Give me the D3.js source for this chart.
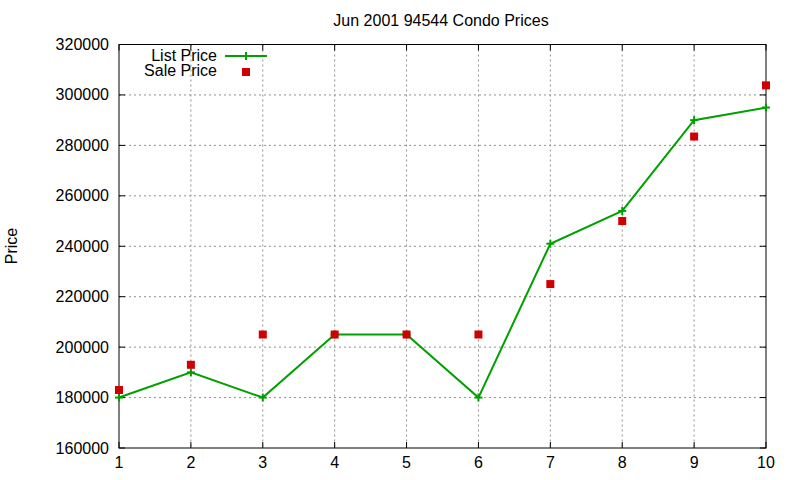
<!DOCTYPE html>
<html lang="en">
<head>
<meta charset="UTF-8">
<title>Jun 2001 94544 Condo Prices</title>
<script src="https://d3js.org/d3.v7.min.js"></script>
<style>
    body { margin: 0; background: #fff; }
    svg { font-family: "Liberation Sans", Arial, sans-serif; }
    .grid line { stroke: #909090; stroke-dasharray: 2,3; stroke-width: 1; }
</style>
</head>
<body>
<svg id="chart" width="800" height="480"></svg>
<script>
    // values
    const months = [1, 2, 3, 4, 5, 6, 7, 8, 9, 10];
    const listPrice = [180000, 190000, 180000, 205000, 205000, 180000, 241000, 254000, 290000, 295000];
    const salePrice = [183000, 193000, 205000, 205000, 205000, 205000, 225000, 250000, 283500, 303800];
    const yTicks = [160000, 180000, 200000, 220000, 240000, 260000, 280000, 300000, 320000];

    const svg = d3.select('#chart');
    const plotL = 119, plotR = 766, plotT = 44.5, plotB = 448;
    const fs = 16;

    const x = d3.scaleLinear().domain([1, 10]).range([plotL, plotR]);
    const y = d3.scaleLinear().domain([160000, 320000]).range([plotB, plotT]);

    // grid
    const grid = svg.append('g').attr('class', 'grid');
    grid.selectAll('.gx').data(months.slice(1, -1)).enter().append('line')
        .attr('x1', d => x(d)).attr('x2', d => x(d))
        .attr('y1', plotT).attr('y2', plotB);
    grid.selectAll('.gy').data(yTicks.slice(1, -1)).enter().append('line')
        .attr('x1', plotL).attr('x2', plotR)
        .attr('y1', d => y(d)).attr('y2', d => y(d));

    // border + ticks (mirrored like gnuplot)
    svg.append('rect')
        .attr('x', plotL).attr('y', plotT)
        .attr('width', plotR - plotL).attr('height', plotB - plotT)
        .attr('fill', 'none').attr('stroke', '#000').attr('stroke-width', 1);

    const tickLen = 6;
    const ticks = svg.append('g').attr('stroke', '#000');
    yTicks.forEach(v => {
        ticks.append('line').attr('x1', plotL).attr('x2', plotL + tickLen).attr('y1', y(v)).attr('y2', y(v));
        ticks.append('line').attr('x1', plotR).attr('x2', plotR - tickLen).attr('y1', y(v)).attr('y2', y(v));
    });
    months.forEach(v => {
        ticks.append('line').attr('x1', x(v)).attr('x2', x(v)).attr('y1', plotB).attr('y2', plotB - tickLen);
        ticks.append('line').attr('x1', x(v)).attr('x2', x(v)).attr('y1', plotT).attr('y2', plotT + tickLen);
    });

    // tick labels
    svg.selectAll('.ylab').data(yTicks).enter().append('text')
        .attr('x', plotL - 10).attr('y', d => y(d) + 5.5)
        .attr('text-anchor', 'end').attr('font-size', fs)
        .text(d => d);
    svg.selectAll('.xlab').data(months).enter().append('text')
        .attr('x', d => x(d)).attr('y', plotB + 20)
        .attr('text-anchor', 'middle').attr('font-size', fs)
        .text(d => d);

    // titles
    svg.append('text').attr('x', 441).attr('y', 26)
        .attr('text-anchor', 'middle').attr('font-size', fs)
        .text('Jun 2001 94544 Condo Prices');
    svg.append('text')
        .attr('transform', 'translate(17,246) rotate(-90)')
        .attr('text-anchor', 'middle').attr('font-size', fs)
        .text('Price');

    // list price line
    const green = '#00a000', red = '#d00000';
    const line = d3.line().x((d, i) => x(months[i])).y(d => y(d));
    svg.append('path').datum(listPrice)
        .attr('d', line).attr('fill', 'none')
        .attr('stroke', green).attr('stroke-width', 2);

    const cross = (g, cx, cy) => {
        g.append('line').attr('x1', cx - 4).attr('x2', cx + 4).attr('y1', cy).attr('y2', cy);
        g.append('line').attr('x1', cx).attr('x2', cx).attr('y1', cy - 4).attr('y2', cy + 4);
    };
    const crosses = svg.append('g').attr('stroke', green).attr('stroke-width', 2);
    listPrice.forEach((v, i) => cross(crosses, x(months[i]), y(v)));

    // sale price squares
    svg.selectAll('.sale').data(salePrice).enter().append('rect')
        .attr('x', (d, i) => x(months[i]) - 4).attr('y', d => y(d) - 4)
        .attr('width', 8).attr('height', 8).attr('fill', red);

    // legend
    svg.append('text').attr('x', 217).attr('y', 61)
        .attr('text-anchor', 'end').attr('font-size', fs).text('List Price');
    svg.append('line').attr('x1', 225).attr('x2', 267).attr('y1', 56).attr('y2', 56)
        .attr('stroke', green).attr('stroke-width', 2);
    cross(svg.append('g').attr('stroke', green).attr('stroke-width', 2), 246, 56);
    svg.append('text').attr('x', 217).attr('y', 76)
        .attr('text-anchor', 'end').attr('font-size', fs).text('Sale Price');
    svg.append('rect').attr('x', 242).attr('y', 68).attr('width', 8).attr('height', 8).attr('fill', red);
</script>
</body>
</html>
